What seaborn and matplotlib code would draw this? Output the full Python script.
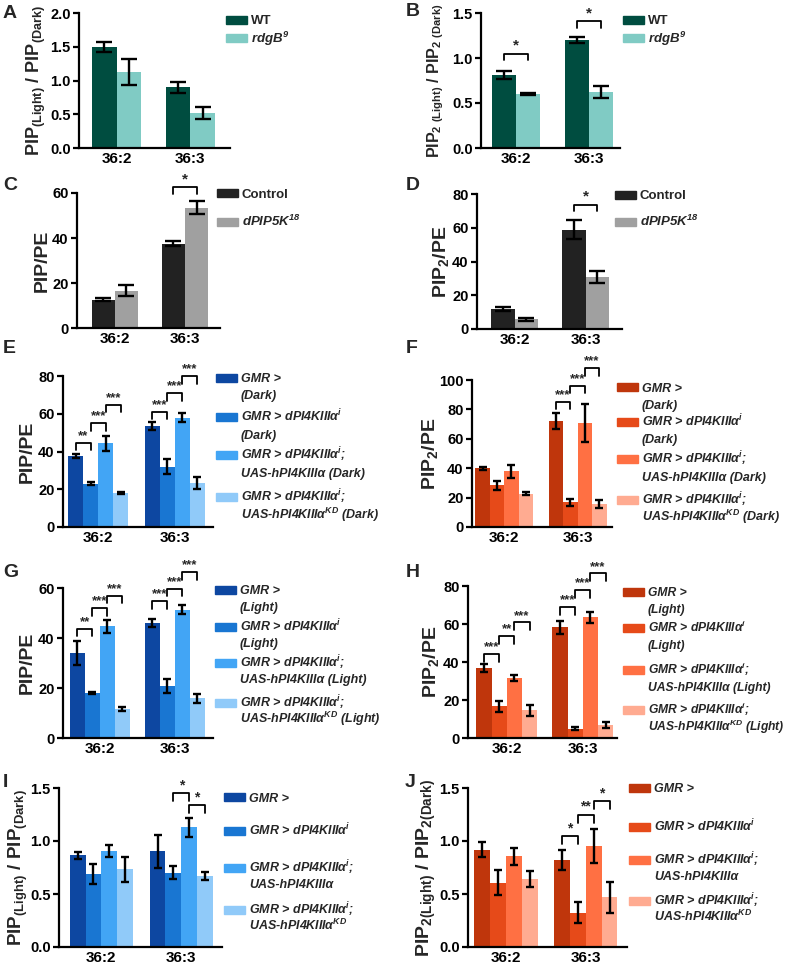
import numpy as np
import pandas as pd
import matplotlib
matplotlib.use("Agg")
import matplotlib.pyplot as plt
import seaborn as sns
from matplotlib.patches import Rectangle

W, H = 789, 969

lipids = ["36:2", "36:3"]

# A / B : WT vs rdgB9 (light / dark ratios)
rdgb_groups = ["WT", "rdgB9"]
a_wt, a_wt_sem = [1.49, 0.90], [0.075, 0.08]
a_rdgb, a_rdgb_sem = [1.13, 0.52], [0.19, 0.09]
b_wt, b_wt_sem = [0.81, 1.20], [0.045, 0.035]
b_rdgb, b_rdgb_sem = [0.60, 0.62], [0.015, 0.065]

# C / D : control vs dPIP5K18
pip5k_groups = ["Control", "dPIP5K18"]
c_ctrl, c_ctrl_sem = [12.6, 37.5], [0.8, 1.2]
c_pip5k, c_pip5k_sem = [16.6, 53.5], [2.3, 3.0]
d_ctrl, d_ctrl_sem = [11.9, 58.8], [1.0, 5.7]
d_pip5k, d_pip5k_sem = [5.9, 30.7], [0.9, 3.4]

# E - J : PI4KIIIalpha genotypes
pi4k_groups = ["GMR", "RNAi", "rescue", "KD"]
e_gmr, e_gmr_sem = [37.5, 53.5], [1.0, 2.0]
e_rnai, e_rnai_sem = [23.0, 32.0], [0.7, 4.0]
e_rescue, e_rescue_sem = [44.3, 58.0], [4.0, 2.5]
e_kd, e_kd_sem = [18.0, 23.3], [0.7, 3.0]

f_gmr, f_gmr_sem = [40.0, 72.0], [1.0, 5.5]
f_rnai, f_rnai_sem = [28.4, 16.8], [3.0, 2.5]
f_rescue, f_rescue_sem = [38.0, 70.8], [4.5, 13.0]
f_kd, f_kd_sem = [22.7, 15.5], [1.0, 2.8]

g_gmr, g_gmr_sem = [34.0, 46.0], [4.8, 1.5]
g_rnai, g_rnai_sem = [18.0, 21.0], [0.4, 2.8]
g_rescue, g_rescue_sem = [44.7, 51.3], [2.5, 1.8]
g_kd, g_kd_sem = [11.5, 16.0], [0.8, 1.8]

h_gmr, h_gmr_sem = [36.9, 58.2], [2.0, 3.5]
h_rnai, h_rnai_sem = [16.7, 5.0], [3.0, 1.0]
h_rescue, h_rescue_sem = [31.6, 63.5], [1.8, 3.0]
h_kd, h_kd_sem = [14.6, 6.7], [3.0, 1.5]

i_gmr, i_gmr_sem = [0.865, 0.905], [0.035, 0.155]
i_rnai, i_rnai_sem = [0.69, 0.70], [0.095, 0.06]
i_rescue, i_rescue_sem = [0.905, 1.13], [0.06, 0.09]
i_kd, i_kd_sem = [0.733, 0.67], [0.12, 0.035]

j_gmr, j_gmr_sem = [0.918, 0.824], [0.07, 0.095]
j_rnai, j_rnai_sem = [0.607, 0.324], [0.12, 0.10]
j_rescue, j_rescue_sem = [0.858, 0.953], [0.08, 0.16]
j_kd, j_kd_sem = [0.645, 0.47], [0.075, 0.145]

# significance brackets: (lipid, group index 1, group index 2, height, label)
b_sig = [("36:2", 0, 1, 1.05, "*"), ("36:3", 0, 1, 1.41, "*")]
c_sig = [("36:3", 0, 1, 62.5, "*")]
d_sig = [("36:3", 0, 1, 73.7, "*")]
e_sig = [("36:2", 0, 1, 44.7, "**"), ("36:2", 1, 2, 55, "***"), ("36:2", 2, 3, 64.8, "***"),
         ("36:3", 0, 1, 61, "***"), ("36:3", 1, 2, 71, "***"), ("36:3", 2, 3, 80, "***")]
f_sig = [("36:3", 0, 1, 85, "***"), ("36:3", 1, 2, 96, "***"), ("36:3", 2, 3, 108, "***")]
g_sig = [("36:2", 0, 1, 43.7, "**"), ("36:2", 1, 2, 52, "***"), ("36:2", 2, 3, 57, "***"),
         ("36:3", 0, 1, 54.7, "***"), ("36:3", 1, 2, 59.7, "***"), ("36:3", 2, 3, 66.3, "***")]
h_sig = [("36:2", 0, 1, 44, "***"), ("36:2", 1, 2, 53.6, "**"), ("36:2", 2, 3, 60.8, "***"),
         ("36:3", 0, 1, 69, "***"), ("36:3", 1, 2, 77.9, "***"), ("36:3", 2, 3, 86.6, "***")]
i_sig = [("36:3", 1, 2, 1.45, "*"), ("36:3", 2, 3, 1.34, "*")]
j_sig = [("36:3", 0, 1, 1.047, "*"), ("36:3", 1, 2, 1.248, "**"), ("36:3", 2, 3, 1.374, "*")]

greens = ["#004D40", "#80CBC4"]
grays = ["#222222", "#A0A0A0"]
blues = ["#0D47A1", "#1976D2", "#42A5F5", "#90CAF9"]
oranges = ["#BF360C", "#E64A19", "#FF7043", "#FFAB91"]

alpha_i = "dPI4KIIIα$^{i}$"
def pi4k_labels(cond):
    return [("GMR >", cond), ("GMR > " + alpha_i, cond),
            ("GMR > " + alpha_i + ";", "UAS-hPI4KIIIα " + cond),
            ("GMR > " + alpha_i + ";", "UAS-hPI4KIIIα$^{KD}$ " + cond)]

ratio_labels = [("GMR >",), ("GMR > " + alpha_i,),
                ("GMR > " + alpha_i + ";", "UAS-hPI4KIIIα"),
                ("GMR > " + alpha_i + ";", "UAS-hPI4KIIIα$^{KD}$")]

sns.set_style("ticks")
plt.rcParams.update({
    "font.family": ["Liberation Sans", "DejaVu Sans"],
    "font.weight": "bold",
    "axes.labelweight": "bold",
    "mathtext.default": "regular",
    "axes.linewidth": 1.6,
    "ytick.major.width": 1.6,
    "ytick.major.size": 4,
    "xtick.major.size": 0,
    "ytick.labelsize": 10.5,
    "xtick.labelsize": 11,
    "axes.edgecolor": "black",
    "xtick.color": "black",
    "ytick.color": "black",
})

fig = plt.figure(figsize=(W / 100, H / 100), dpi=100)


def panel(rect, groups, means, sems, colors, ymax, ystep, fmt, xlim, width, capsize,
          ylabel, ylab_x, ylab_size, sig, star_size):
    l, t, r, b = rect
    ax = fig.add_axes([l / W, 1 - b / H, (r - l) / W, (b - t) / H])
    df = pd.DataFrame({
        "lipid": lipids * len(groups),
        "group": np.repeat(groups, len(lipids)),
        "mean": np.concatenate(means),
        "sem": np.concatenate(sems),
    })
    sns.barplot(data=df, x="lipid", y="mean", hue="group", hue_order=groups,
                palette=colors, width=width, errorbar=None, saturation=1,
                linewidth=0, legend=False, ax=ax)
    centers = {}
    for p in ax.patches:
        xc = p.get_x() + p.get_width() / 2
        lip = lipids[int(round(xc))]
        row = df[(df["lipid"] == lip) & np.isclose(df["mean"], p.get_height())].iloc[0]
        centers[(lip, row["group"])] = xc
        ax.errorbar(xc, row["mean"], yerr=row["sem"], fmt="none", ecolor="black",
                    elinewidth=1.7, capsize=capsize, capthick=1.7, zorder=3)
    leg = 0.05 * ymax
    for lip, g1, g2, y, lab in sig:
        x1, x2 = centers[(lip, groups[g1])], centers[(lip, groups[g2])]
        ax.plot([x1, x1, x2, x2], [y - leg, y, y, y - leg], color="black", lw=1.3,
                clip_on=False)
        ax.text((x1 + x2) / 2, y + 0.005 * ymax, lab, ha="center", va="bottom",
                fontsize=star_size, clip_on=False)
    ax.set_xlim(*xlim)
    ax.set_ylim(0, ymax)
    ticks = np.arange(0, ymax + ystep / 2, ystep)
    ax.set_yticks(ticks)
    ax.set_yticklabels([fmt.format(v) for v in ticks])
    ax.set_xlabel("")
    ax.set_ylabel(ylabel, fontsize=ylab_size, va="center")
    ax.yaxis.set_label_coords(-(l - ylab_x) / (r - l), 0.5)
    ax.tick_params(axis="x", pad=3)
    ax.tick_params(axis="y", pad=2)
    sns.despine(ax=ax)
    return ax


def legend(x, ys, labels, colors, italic, gap, size=9):
    for y, lines, c, it in zip(ys, labels, colors, italic):
        fig.patches.append(Rectangle((x / W, 1 - (y + 4) / H), 21 / W, 8 / H,
                                     transform=fig.transFigure, color=c))
        for k, line in enumerate(lines):
            fig.text((x + 25) / W, 1 - (y + 4.5 + k * gap) / H, line, va="baseline",
                     ha="left", fontsize=size, fontweight="bold",
                     fontstyle="italic" if it else "normal")


def letter(x, y, s):
    fig.text(x / W, 1 - y / H, s, fontsize=14, fontweight="bold", ha="left", va="top")


ratio_pip = "PIP$_{(Light)}$ / PIP$_{(Dark)}$"

panel((79, 13, 230, 148), rdgb_groups, [a_wt, a_rdgb], [a_wt_sem, a_rdgb_sem], greens,
      2.0, 0.5, "{:.1f}", (-0.51, 1.54), 0.667, 5.5, ratio_pip, 36, 13, [], 11)
panel((481, 13, 620, 148), rdgb_groups, [b_wt, b_rdgb], [b_wt_sem, b_rdgb_sem], greens,
      1.5, 0.5, "{:.1f}", (-0.48, 1.42), 0.66, 5.5,
      "PIP$_{2\\ (Light)}$ / PIP$_{2\\ (Dark)}$", 436, 11.5, b_sig, 11)
panel((77, 193, 220, 328), pip5k_groups, [c_ctrl, c_pip5k], [c_ctrl_sem, c_pip5k_sem], grays,
      60, 20, "{:.0f}", (-0.54, 1.5), 0.66, 5.5, "PIP/PE", 42, 14, c_sig, 11)
panel((477, 194, 622, 329), pip5k_groups, [d_ctrl, d_pip5k], [d_ctrl_sem, d_pip5k_sem], grays,
      80, 20, "{:.0f}", (-0.53, 1.51), 0.66, 5.5, "PIP$_2$/PE", 441, 14, d_sig, 11)
panel((63, 376, 213, 527), pi4k_groups, [e_gmr, e_rnai, e_rescue, e_kd],
      [e_gmr_sem, e_rnai_sem, e_rescue_sem, e_kd_sem], blues,
      80, 20, "{:.0f}", (-0.46, 1.50), 0.78, 3.2, "PIP/PE", 27, 14, e_sig, 9.5)
panel((472, 380, 612, 527), pi4k_groups, [f_gmr, f_rnai, f_rescue, f_kd],
      [f_gmr_sem, f_rnai_sem, f_rescue_sem, f_kd_sem], oranges,
      100, 20, "{:.0f}", (-0.44, 1.47), 0.79, 3.2, "PIP$_2$/PE", 430, 14, f_sig, 9.5)
panel((63, 588, 213, 738), pi4k_groups, [g_gmr, g_rnai, g_rescue, g_kd],
      [g_gmr_sem, g_rnai_sem, g_rescue_sem, g_kd_sem], blues,
      60, 20, "{:.0f}", (-0.49, 1.51), 0.8, 3.2, "PIP/PE", 27, 14, g_sig, 9.5)
panel((468, 586, 617, 738), pi4k_groups, [h_gmr, h_rnai, h_rescue, h_kd],
      [h_gmr_sem, h_rnai_sem, h_rescue_sem, h_kd_sem], oranges,
      80, 20, "{:.0f}", (-0.51, 1.45), 0.8, 3.2, "PIP$_2$/PE", 431, 14, h_sig, 9.5)
panel((59, 788, 222, 947), pi4k_groups, [i_gmr, i_rnai, i_rescue, i_kd],
      [i_gmr_sem, i_rnai_sem, i_rescue_sem, i_kd_sem], blues,
      1.5, 0.5, "{:.1f}", (-0.53, 1.51), 0.79, 3.2, ratio_pip, 18, 13.5, i_sig, 10)
panel((468, 788, 627, 947), pi4k_groups, [j_gmr, j_rnai, j_rescue, j_kd],
      [j_gmr_sem, j_rnai_sem, j_rescue_sem, j_kd_sem], oranges,
      1.5, 0.5, "{:.1f}", (-0.48, 1.52), 0.8, 3.2,
      "PIP$_{2(Light)}$ / PIP$_{2(Dark)}$", 426, 14, j_sig, 10)

legend(226, [20, 38], [("WT",), ("rdgB$^{9}$",)], greens, [False, True], 16, 9.5)
legend(623, [20, 38], [("WT",), ("rdgB$^{9}$",)], greens, [False, True], 16, 9.5)
legend(217, [193, 222], [("Control",), ("dPIP5K$^{18}$",)], grays, [False, True], 16, 9.5)
legend(615, [195, 222], [("Control",), ("dPIP5K$^{18}$",)], grays, [False, True], 16, 9.5)
legend(216, [378, 417, 455, 497], pi4k_labels("(Dark)"), blues, [True] * 4, 17)
legend(617, [387, 422, 459, 500], pi4k_labels("(Dark)"), oranges, [True] * 4, 17)
legend(215, [590, 627, 663, 703], pi4k_labels("(Light)"), blues, [True] * 4, 16)
legend(623, [592, 628, 670, 710], pi4k_labels("(Light)"), oranges, [True] * 4, 16, 8.7)
legend(224, [797, 831, 868, 910], ratio_labels, blues, [True] * 4, 15.5)
legend(629, [788, 827, 860, 901], ratio_labels, oranges, [True] * 4, 15.5)

for x, y, s in [(3, 5, "A"), (406, 3, "B"), (3, 177, "C"), (406, 177, "D"),
                (3, 340, "E"), (406, 340, "F"), (3, 564, "G"), (406, 564, "H"),
                (3, 774, "I"), (405, 774, "J")]:
    letter(x, y, s)

fig.savefig("out.png", dpi=100)
